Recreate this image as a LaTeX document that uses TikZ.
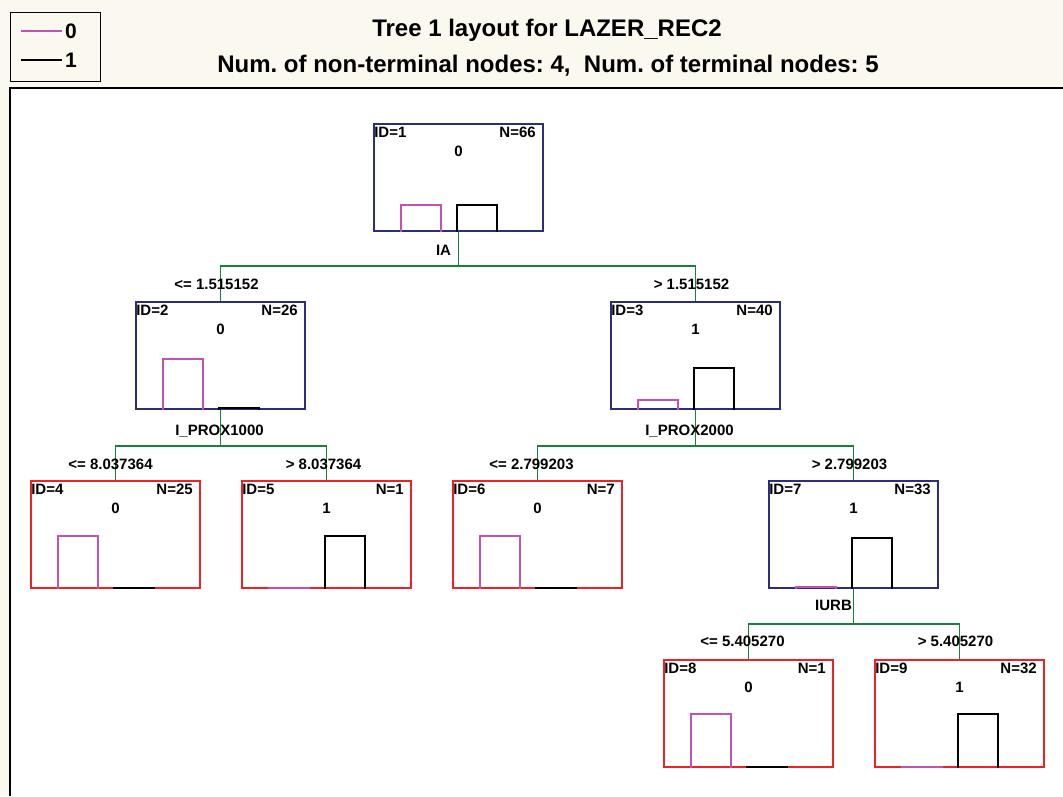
\documentclass[tikz,border=0pt]{standalone}
\usepackage{fontspec}
\setmainfont{Liberation Sans}
\usetikzlibrary{positioning}
\frenchspacing
\definecolor{paper}{RGB}{251,248,240}
\definecolor{innerblue}{RGB}{45,45,125}
\definecolor{leafred}{RGB}{238,34,38}
\definecolor{zeropink}{RGB}{196,82,178}
\definecolor{splitgreen}{RGB}{24,128,60}

% class histogram inside a tree node: #1 node, #2 height of 0, #3 height of 1
\newcommand{\hist}[3]{%
  \draw[bar zero] ([xshift=28pt]#1.south west) -- ++(0,#2) -- ++(40,0) -- ++(0,-#2);
  \draw[bar one] ([xshift=84pt]#1.south west) -- ++(0,#3) -- ++(40,0) -- ++(0,-#3);
}
% name, style, x, y, id, N, class, h0, h1
\newcommand{\treenode}[9]{%
  \node[#2] (#1) at (#3,#4) {};
  \node[tag,anchor=north west] (#1id) at ([xshift=1pt,yshift=-4pt]#1.north west) {ID=#5};
  \node[tag,anchor=north east] (#1n) at ([xshift=-8pt,yshift=-4pt]#1.north east) {N=#6};
  \node[tag] (#1cls) at ([yshift=-28pt]#1.north) {#7};
  \hist{#1}{#8}{#9}
}

\begin{document}
\begin{tikzpicture}[
	x=1pt, y=1pt,
	tag/.style = {font=\fontsize{15}{15}\selectfont\bfseries, inner sep=0pt},
	title/.style = {font=\fontsize{24}{27}\selectfont\bfseries, inner sep=0pt},
	key/.style = {font=\fontsize{21}{21}\selectfont\bfseries, inner sep=0pt, anchor=west},
	box/.style = {draw, line width=1.8, minimum width=169, minimum height=107, inner sep=0pt},
	inner box/.style = {box, draw=innerblue},
	leaf box/.style = {box, draw=leafred},
	bar zero/.style = {draw=zeropink, line width=1.8},
	bar one/.style = {draw=black, line width=1.8},
	branch/.style = {draw=splitgreen, line width=1.8}
	]

	\useasboundingbox (0,0) rectangle (1063,-796);
	\fill[paper] (0,0) rectangle (1063,-796);
	\fill[white] (10,-88) rectangle (1063,-796);
	\draw[line width=2.2] (10,-796) |- (1063,-88);

	% legend and titles
	\node[draw, line width=1.2, minimum width=90, minimum height=69, inner sep=0pt, anchor=north west] (legend) at (10,-12) {};
	\coordinate (k0) at (21,-31);
	\coordinate (k1) at (21,-60);
	\node[key] (k0txt) at (65,-31) {0};
	\node[key] (k1txt) at (65,-60) {1};
	\draw[bar zero, line width=1.2] (k0) -- ([xshift=-3pt]k0txt.west);
	\draw[bar one, line width=1.2] (k1) -- ([xshift=-3pt]k1txt.west);

	\node[title] (ttl) at (547,-30) {Tree 1 layout for LAZER\_REC2};
	\node[title] (subttl) at (548,-66) {Num. of non-terminal nodes: 4,\ \ Num. of terminal nodes: 5};

	% tree nodes
	\treenode{n1}{inner box}{458.5}{-177.5}{1}{66}{0}{27}{27}
	\treenode{n2}{inner box}{220.5}{-355.5}{2}{26}{0}{51}{2}
	\treenode{n3}{inner box}{695.5}{-355.5}{3}{40}{1}{10}{42}
	\treenode{n4}{leaf box}{115.5}{-534.5}{4}{25}{0}{53}{1}
	\treenode{n5}{leaf box}{326.5}{-534.5}{5}{1}{1}{1}{53}
	\treenode{n6}{leaf box}{537.5}{-534.5}{6}{7}{0}{53}{1}
	\treenode{n7}{inner box}{853.5}{-534.5}{7}{33}{1}{2}{51}
	\treenode{n8}{leaf box}{748.5}{-713.5}{8}{1}{0}{54}{1}
	\treenode{n9}{leaf box}{959.5}{-713.5}{9}{32}{1}{1}{54}

	% splits
	\coordinate (j1) at ([yshift=-34pt]n1.south);
	\coordinate (j2) at ([yshift=-36pt]n2.south);
	\coordinate (j3) at ([yshift=-36pt]n3.south);
	\coordinate (j7) at ([yshift=-35pt]n7.south);

	\draw[branch] (n1.south) -- (j1) -| (n2.north);
	\draw[branch] (j1) -| (n3.north);
	\draw[branch] (n2.south) -- (j2) -| (n4.north);
	\draw[branch] (j2) -| (n5.north);
	\draw[branch] (n3.south) -- (j3) -| (n6.north);
	\draw[branch] (j3) -| (n7.north);
	\draw[branch] (n7.south) -- (j7) -| (n8.north);
	\draw[branch] (j7) -| (n9.north);

	\node[tag] (v1) at ([xshift=-15pt,yshift=-18pt]n1.south) {IA};
	\node[tag] (v2) at ([xshift=-1pt,yshift=-21pt]n2.south) {I\_PROX1000};
	\node[tag] (v3) at ([xshift=-6pt,yshift=-21pt]n3.south) {I\_PROX2000};
	\node[tag] (v7) at ([xshift=-20pt,yshift=-17pt]n7.south) {IURB};

	\node[tag] (t2) at ([xshift=-4pt,yshift=17pt]n2.north) {<= 1.515152};
	\node[tag] (t3) at ([xshift=-4pt,yshift=17pt]n3.north) {> 1.515152};
	\node[tag] (t4) at ([xshift=-5pt,yshift=16pt]n4.north) {<= 8.037364};
	\node[tag] (t5) at ([xshift=-3pt,yshift=16pt]n5.north) {> 8.037364};
	\node[tag] (t6) at ([xshift=-6pt,yshift=16pt]n6.north) {<= 2.799203};
	\node[tag] (t7) at ([xshift=-4pt,yshift=16pt]n7.north) {> 2.799203};
	\node[tag] (t8) at ([xshift=-6pt,yshift=18pt]n8.north) {<= 5.405270};
	\node[tag] (t9) at ([xshift=-4pt,yshift=18pt]n9.north) {> 5.405270};

\end{tikzpicture}
\end{document}
